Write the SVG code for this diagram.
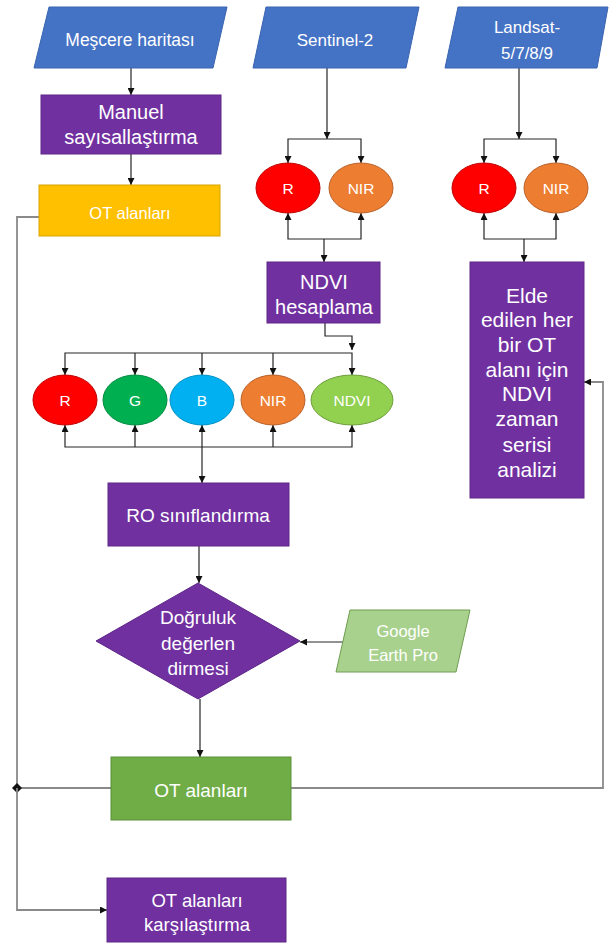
<svg xmlns="http://www.w3.org/2000/svg" width="614" height="945" viewBox="0 0 614 945">
<style>
text{font-family:"Liberation Sans",Arial,sans-serif;fill:#fff;text-anchor:middle;dominant-baseline:central}
.io{fill:#4472C4;stroke:#3a64b0;stroke-width:1}
.pr{fill:#7030A0;stroke:#5e2788;stroke-width:1}
.c{fill:none;stroke:#262626;stroke-width:1.2}
.g{fill:none;stroke:#8a8a8a;stroke-width:1.8}
</style>
<defs>
<marker id="a" viewBox="0 0 10 10" refX="10" refY="5" markerWidth="7" markerHeight="7" markerUnits="userSpaceOnUse" orient="auto-start-reverse"><path d="M0,0 L10,5 L0,10 z" fill="#111"/></marker>
<marker id="d" viewBox="0 0 10 10" refX="5" refY="5" markerWidth="10" markerHeight="10" markerUnits="userSpaceOnUse" orient="auto"><path d="M0,5 L5,0 L10,5 L5,10 z" fill="#111"/></marker>
</defs>
<rect width="614" height="945" fill="#fff"/>

<g id="connectors">
<path class="c" d="M131,68 V95" marker-end="url(#a)"/>
<path class="c" d="M131,154 V185" marker-end="url(#a)"/>
<path class="g" d="M39,217 H17 V788"/>
<path class="g" d="M17,788 H111" marker-start="url(#d)"/>
<path class="g" d="M17,788 V910 H107" marker-end="url(#a)"/>
<path class="g" d="M291,788 H603 V382 H584" marker-end="url(#a)"/>
<path class="c" d="M327,68 V139" marker-end="url(#a)"/>
<path class="c" d="M288,163 V139 H361 V163" marker-start="url(#a)" marker-end="url(#a)"/>
<path class="c" d="M288,213 V239 H361 V213" marker-start="url(#a)" marker-end="url(#a)"/>
<path class="c" d="M324,239 V262" marker-end="url(#a)"/>
<path class="c" d="M519,68 V139" marker-end="url(#a)"/>
<path class="c" d="M484,163 V139 H556 V163" marker-start="url(#a)" marker-end="url(#a)"/>
<path class="c" d="M484,213 V239 H556 V213" marker-start="url(#a)" marker-end="url(#a)"/>
<path class="c" d="M524,239 V262" marker-end="url(#a)"/>
<path class="c" d="M325,323 V336 H352 V350" marker-end="url(#a)"/>
<path class="c" d="M65,375 V353 H352 V375" marker-start="url(#a)" marker-end="url(#a)"/>
<path class="c" d="M135,353 V375" marker-end="url(#a)"/>
<path class="c" d="M202,353 V375" marker-end="url(#a)"/>
<path class="c" d="M273,353 V375" marker-end="url(#a)"/>
<path class="c" d="M65,425 V447 H352 V425" marker-start="url(#a)" marker-end="url(#a)"/>
<path class="c" d="M135,447 V425" marker-end="url(#a)"/>
<path class="c" d="M273,447 V425" marker-end="url(#a)"/>
<path class="c" d="M202,425 V483" marker-start="url(#a)" marker-end="url(#a)"/>
<path class="c" d="M199,546 V583" marker-end="url(#a)"/>
<path class="c" d="M343,642 H300" marker-end="url(#a)"/>
<path class="c" d="M200,699 V757" marker-end="url(#a)"/>
</g>

<g id="mescere"><polygon class="io" points="49,7 227,7 213,68 34,68"/><text x="130" y="40" font-size="17.5">Meşcere haritası</text></g>
<g id="sentinel"><polygon class="io" points="266,7 419,7 406,68 253,68"/><text x="335" y="40" font-size="17">Sentinel-2</text></g>
<g id="landsat"><polygon class="io" points="458,7 608,7 597,68 445,68"/><text x="527" y="27" font-size="17">Landsat-</text><text x="527" y="53" font-size="17">5/7/8/9</text></g>

<g id="manuel"><rect class="pr" x="41" y="95" width="180" height="59"/><text x="131" y="112" font-size="20">Manuel</text><text x="131" y="137" font-size="20">sayısallaştırma</text></g>
<g id="ot1"><rect x="39" y="185" width="181" height="51" fill="#FFC000" stroke="#d9a300"/><text x="130" y="213" font-size="16.5">OT alanları</text></g>

<g id="s2r"><ellipse cx="288" cy="188" rx="32" ry="25" fill="#FF0000" stroke="#c00000"/><text x="288" y="188" font-size="15.5">R</text></g>
<g id="s2nir"><ellipse cx="361" cy="188" rx="32" ry="25" fill="#ED7D31" stroke="#b8612a"/><text x="361" y="188" font-size="15.5">NIR</text></g>
<g id="lr"><ellipse cx="484" cy="188" rx="32" ry="25" fill="#FF0000" stroke="#c00000"/><text x="484" y="188" font-size="15.5">R</text></g>
<g id="lnir"><ellipse cx="556" cy="188" rx="32" ry="25" fill="#ED7D31" stroke="#b8612a"/><text x="556" y="188" font-size="15.5">NIR</text></g>

<g id="ndvih"><rect class="pr" x="267" y="262" width="113" height="61"/><text x="324" y="282" font-size="20">NDVI</text><text x="324" y="307" font-size="20">hesaplama</text></g>

<g id="elde"><rect class="pr" x="470" y="262" width="114" height="236"/>
<text x="527" y="295" font-size="21">Elde</text>
<text x="527" y="319" font-size="21">edilen her</text>
<text x="527" y="344" font-size="21">bir OT</text>
<text x="527" y="369" font-size="21">alanı için</text>
<text x="527" y="393" font-size="21">NDVI</text>
<text x="527" y="418" font-size="21">zaman</text>
<text x="527" y="444" font-size="21">serisi</text>
<text x="527" y="469" font-size="21">analizi</text></g>

<g id="r"><ellipse cx="65" cy="400" rx="32" ry="25" fill="#FF0000" stroke="#c00000"/><text x="65" y="400" font-size="15.5">R</text></g>
<g id="gc"><ellipse cx="135" cy="400" rx="32" ry="25" fill="#00B050" stroke="#008a3e"/><text x="135" y="400" font-size="15.5">G</text></g>
<g id="bc"><ellipse cx="202" cy="400" rx="32" ry="25" fill="#00B0F0" stroke="#0090c4"/><text x="202" y="400" font-size="15.5">B</text></g>
<g id="nir"><ellipse cx="273" cy="400" rx="32" ry="25" fill="#ED7D31" stroke="#b8612a"/><text x="273" y="400" font-size="15.5">NIR</text></g>
<g id="ndvi"><ellipse cx="352" cy="400" rx="41" ry="25" fill="#92D050" stroke="#6f9e3c"/><text x="352" y="400" font-size="15.5">NDVI</text></g>

<g id="ro"><rect class="pr" x="108" y="483" width="181" height="63"/><text x="198" y="515" font-size="19">RO sınıflandırma</text></g>
<g id="dogruluk"><polygon class="pr" points="198,583 300,641 198,699 96,641"/><text x="198" y="617" font-size="19">Doğruluk</text><text x="198" y="643" font-size="19">değerlen</text><text x="198" y="668" font-size="19">dirmesi</text></g>
<g id="google"><polygon points="350,610 470,610 456,672 336,672" fill="#A9D18E" stroke="#6f9e50"/><text x="403" y="631" font-size="16.5">Google</text><text x="403" y="655" font-size="16.5">Earth Pro</text></g>
<g id="ot2"><rect x="111" y="757" width="180" height="63" fill="#70AD47" stroke="#5a8f38"/><text x="201" y="790" font-size="19">OT alanları</text></g>
<g id="kars"><rect class="pr" x="107" y="878" width="179" height="64"/><text x="197" y="900" font-size="18.5">OT alanları</text><text x="197" y="924" font-size="18.5">karşılaştırma</text></g>
</svg>
